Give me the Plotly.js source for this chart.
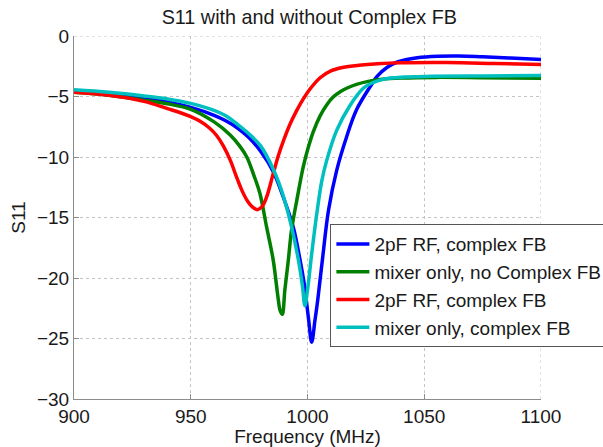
<!DOCTYPE html>
<html>
<head>
<meta charset="utf-8">
<script src="https://cdn.plot.ly/plotly-3.0.1.min.js"></script>
<style>html,body{margin:0;padding:0;background:#fff;}#chart{width:603px;height:447px;}</style>
</head>
<body>
<div id="chart"></div>
<script>
// Series 1: 2pF RF, complex FB (blue)
var freqBlue = [900, 915, 930, 940, 950, 960, 965, 970, 975, 980, 985.3, 989.6, 993.9, 996.8, 998.6, 1000.4, 1001.8, 1003.2, 1004.4, 1006.5, 1009, 1012.5, 1016.8, 1021, 1026.8, 1030, 1034, 1038.5, 1047, 1056, 1065, 1075, 1087, 1100];
var s11Blue  = [-4.55, -4.8, -5.15, -5.45, -5.9, -6.55, -7.0, -7.6, -8.4, -9.55, -11.2, -13.3, -15.8, -18.5, -20.5, -23.3, -25.3, -23.5, -21.8, -18.3, -14.4, -11.1, -8.3, -6.1, -4.2, -3.3, -2.6, -2.15, -1.8, -1.67, -1.65, -1.72, -1.82, -1.95];

// Series 2: mixer only, no Complex FB (green)
var freqGreen = [900, 915, 930, 940, 950, 960, 967, 971, 974, 977, 979.6, 982.5, 985.3, 987.3, 988.3, 989.2, 990.3, 991.8, 993.2, 995.4, 998.2, 1000.5, 1002.5, 1005.4, 1008.2, 1011, 1014, 1017, 1021, 1026, 1032, 1040, 1055, 1075, 1100];
var s11Green  = [-4.65, -4.9, -5.3, -5.6, -6.06, -7.1, -8.2, -9.1, -10.0, -11.5, -13.0, -15.8, -18.5, -21.5, -22.7, -23.0, -21.0, -18.5, -16.0, -13.6, -10.8, -9.1, -7.9, -6.6, -5.7, -5.05, -4.6, -4.3, -4.0, -3.75, -3.58, -3.48, -3.42, -3.45, -3.5];

// Series 3: 2pF RF, complex FB (red)
var freqRed = [900, 915, 930, 940, 945, 950, 954, 958, 961, 964, 967, 969.5, 972, 974.5, 976.5, 978.5, 980.5, 982.5, 985, 987.5, 990, 992.5, 995.4, 998.2, 1001, 1005.4, 1010, 1015, 1022, 1030, 1040, 1060, 1080, 1100];
var s11Red  = [-4.65, -4.9, -5.4, -6.0, -6.3, -6.67, -7.05, -7.6, -8.2, -9.1, -10.3, -11.6, -12.8, -13.7, -14.15, -14.35, -14.1, -13.3, -11.6, -9.9, -8.5, -7.3, -6.15, -5.2, -4.4, -3.45, -2.88, -2.6, -2.42, -2.3, -2.22, -2.2, -2.27, -2.35];

// Series 4: mixer only, complex FB (cyan)
var freqCyan = [900, 915, 930, 940, 950, 960, 965, 970, 975, 980, 985.3, 989.6, 993.2, 996.1, 997.8, 998.9, 1000, 1001.8, 1003.9, 1006.1, 1008.2, 1012.5, 1018, 1024, 1028, 1033, 1040, 1053, 1075, 1100];
var s11Cyan  = [-4.45, -4.65, -4.95, -5.2, -5.57, -6.15, -6.6, -7.3, -8.1, -9.1, -11.0, -13.2, -15.8, -18.5, -20.6, -22.3, -21.0, -18.0, -14.8, -12.0, -10.3, -7.8, -5.8, -4.3, -3.85, -3.55, -3.4, -3.33, -3.3, -3.27];

var seriesNames = ['2pF RF, complex FB', 'mixer only, no Complex FB', '2pF RF, complex FB', 'mixer only, complex FB'];
var seriesColors = ['#0000ff', '#007f00', '#ff0000', '#00bfbf'];

var xTicks = [900, 950, 1000, 1050, 1100];
var yTicks = [-30, -25, -20, -15, -10, -5, 0];

var xs = [freqBlue, freqGreen, freqRed, freqCyan];
var ys = [s11Blue, s11Green, s11Red, s11Cyan];

var font = 'Liberation Sans, Arial, Helvetica, sans-serif';

var traces = xs.map(function (x, i) {
  return {
    x: x, y: ys[i], type: 'scatter', mode: 'lines',
    name: seriesNames[i], legendgroup: 'g' + i,
    line: {color: seriesColors[i], width: 3.5, shape: 'spline', smoothing: 1}
  };
});

// edge grid lines (y = 0 at the top, x = 1100 at the right), which Plotly skips at the plot border
var gridStyle = {color: '#c4c4c4', width: 1, dash: 'dot'};
var edgeGrid = [
  {type: 'line', xref: 'paper', x0: 0, x1: 1, yref: 'y', y0: yTicks[yTicks.length - 1], y1: yTicks[yTicks.length - 1], line: gridStyle, layer: 'below'},
  {type: 'line', yref: 'paper', y0: 0, y1: 1, xref: 'x', x0: xTicks[xTicks.length - 1], x1: xTicks[xTicks.length - 1], line: gridStyle, layer: 'below'}
];

var layout = {
  width: 603, height: 447,
  paper_bgcolor: '#ffffff', plot_bgcolor: '#ffffff',
  margin: {l: 74, r: 61.5, t: 36, b: 48, autoexpand: false},
  font: {family: font, size: 19, color: '#1a1a1a'},
  title: {text: 'S11 with and without Complex FB', font: {family: font, size: 19.8, color: '#1a1a1a'},
          x: 0.513, xref: 'container', xanchor: 'center', y: 0.962, yref: 'container', yanchor: 'middle'},
  shapes: edgeGrid,
  xaxis: {
    range: [900, 1100], tickvals: xTicks, ticktext: xTicks.map(String),
    showgrid: true, gridcolor: '#c4c4c4', griddash: 'dot', gridwidth: 1,
    showline: true, linecolor: '#8c8c8c', linewidth: 1, mirror: false, zeroline: false,
    ticks: 'inside', ticklen: 5, tickcolor: '#8c8c8c',
    tickfont: {family: font, size: 19, color: '#1a1a1a'},
    title: {text: 'Frequency (MHz)', font: {family: font, size: 19, color: '#1a1a1a'}, standoff: 0}
  },
  yaxis: {
    range: [-30, 0], tickvals: yTicks, ticktext: yTicks.map(function (v) { return v < 0 ? '\u2212' + Math.abs(v) : String(v); }),
    showgrid: true, gridcolor: '#c4c4c4', griddash: 'dot', gridwidth: 1,
    showline: true, linecolor: '#8c8c8c', linewidth: 1, mirror: false, zeroline: false,
    ticks: 'inside', ticklen: 5, tickcolor: '#8c8c8c',
    tickfont: {family: font, size: 19, color: '#1a1a1a'},
    title: {text: 'S11', font: {family: font, size: 19, color: '#1a1a1a'}, standoff: 6}
  },
  showlegend: true,
  legend: {
    x: 0.549, y: 0.4815, xanchor: 'left', yanchor: 'top', xref: 'paper', yref: 'paper',
    bgcolor: '#ffffff', bordercolor: '#555555', borderwidth: 1,
    font: {family: font, size: 19, color: '#1a1a1a'},
    itemwidth: 33,
    traceorder: 'normal', tracegroupgap: 0
  }
};

Plotly.newPlot('chart', traces, layout, {displayModeBar: false, staticPlot: true});
</script>
</body>
</html>
